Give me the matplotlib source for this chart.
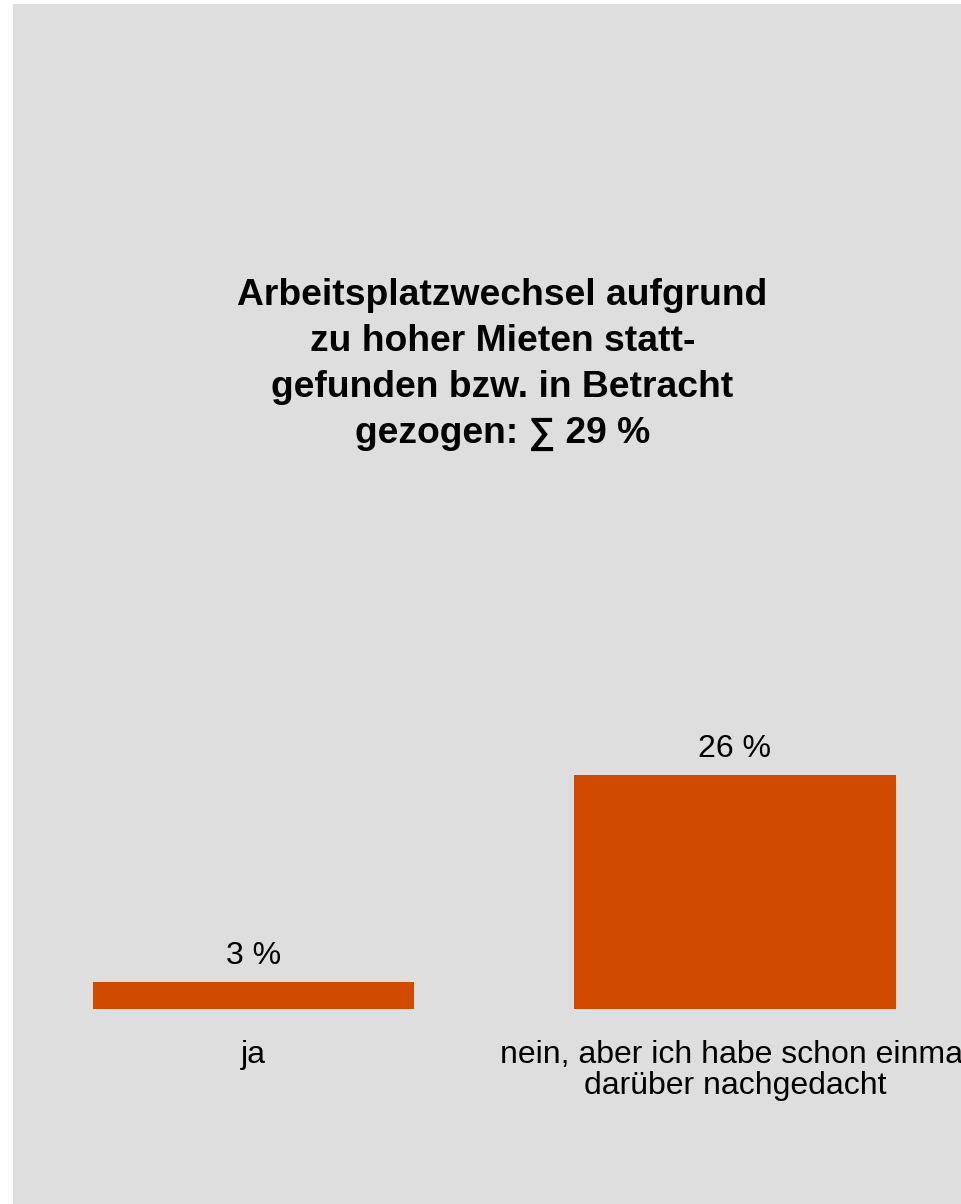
import matplotlib.pyplot as plt
from matplotlib.patches import Rectangle

# survey answers and shares in percent
categories = ["ja", "nein, aber ich habe schon einmal\ndarüber nachgedacht"]
shares = [3, 26]
value_labels = ["3 %", "26 %"]
title = "Arbeitsplatzwechsel aufgrund\nzu hoher Mieten statt-\ngefunden bzw. in Betracht\ngezogen: \u2211 29 %"

bar_color = "#d04a02"
bg_color = "#dedede"
fonts = ["Liberation Sans", "DejaVu Sans"]

fig = plt.figure(figsize=(9.61, 12.04), dpi=100)
fig.patch.set_facecolor("white")

# grey panel, leaves a thin white strip on the left and top
fig.add_artist(Rectangle((13 / 961, 0), 1 - 13 / 961, 1 - 4 / 1204,
                         transform=fig.transFigure, facecolor=bg_color,
                         edgecolor="none", zorder=0))

# axes bottom sits on the bar baseline
base = (1204 - 1009) / 1204
ax = fig.add_axes([0, base, 1, 1 - base])
ax.set_facecolor("none")

x = range(len(categories))
ax.bar(x, shares, width=0.667, color=bar_color, edgecolor="none")

for xi, v, lab in zip(x, shares, value_labels):
    ax.annotate(lab, (xi, v), xytext=(0, 13), textcoords="offset points",
                ha="center", va="baseline", fontsize=23, family=fonts)

ax.set_xlim(-0.5265, 1.4694)
ax.set_ylim(0, 1009 / 9)
ax.set_xticks(list(x))
ax.set_xticklabels(categories, fontsize=23, family=fonts, linespacing=1.06)
ax.tick_params(axis="x", length=0, pad=22)
ax.set_yticks([])
for s in ax.spines.values():
    s.set_visible(False)

fig.text(502.5 / 961, 1 - 364.5 / 1204, title, ha="center", va="center",
         fontsize=26.8, fontweight="bold", family=fonts, linespacing=1.41)

fig.savefig("out.png", dpi=100, facecolor=fig.get_facecolor())
